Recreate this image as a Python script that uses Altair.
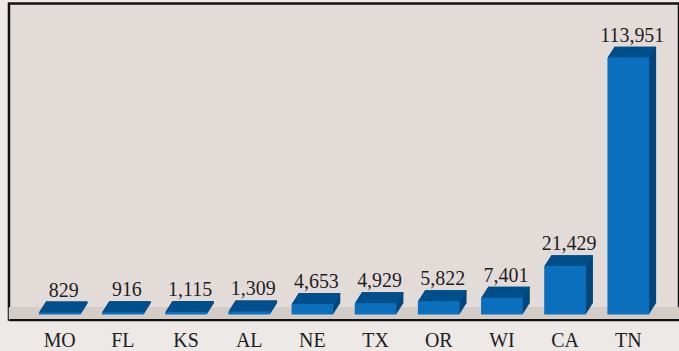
import altair as alt
import pandas as pd

# Case counts by state
states = ["MO", "FL", "KS", "AL", "NE", "TX", "OR", "WI", "CA", "TN"]
counts = [829, 916, 1115, 1309, 4653, 4929, 5822, 7401, 21429, 113951]

df = pd.DataFrame({"state": states, "count": counts})

W, H = 672, 317          # plot area
DEPTH_X, DEPTH_Y = 7, 11  # 3-D extrusion of the columns
STEPS = 11
FLOOR = 12

FRONT = "#0a70be"
TOP = "#004f8a"
SIDE = "#00477c"
FLOOR_COLOR = "#d4ccc7"
PLOT_BG = "#e3dbd8"
PAGE_BG = "#ece9e6"
TEXT = "#1e1e1e"
FONT = "Liberation Serif"

x_enc = alt.X(
    "state:N",
    sort=states,
    scale=alt.Scale(paddingInner=0.34, paddingOuter=0.473),
    axis=alt.Axis(
        title=None,
        ticks=False,
        tickSize=0,
        labelAngle=0,
        labelFont=FONT,
        labelFontSize=20,
        labelColor=TEXT,
        labelBaseline="alphabetic",
        labelPadding=27,
        domainColor="#111111",
        domainWidth=2.2,
        zindex=1,
    ),
)
y_enc = alt.Y(
    "count:Q",
    scale=alt.Scale(domain=[-2300, 137965], nice=False, zero=False),
    axis=None,
)

base = alt.Chart(df).encode(x=x_enc)

# floor strip along the bottom of the plot
floor = alt.Chart(df).mark_rect(color=FLOOR_COLOR).encode(
    x=alt.value(0), x2=alt.value(W), y=alt.value(H - FLOOR), y2=alt.value(H)
)

layers = [floor]

# side faces: the column body swept back in small steps
for i in range(STEPS, 0, -1):
    ox = DEPTH_X * i / STEPS
    oy = -DEPTH_Y * i / STEPS
    layers.append(
        base.mark_bar(color=SIDE, xOffset=ox, yOffset=oy, y2Offset=oy).encode(
            y=y_enc, y2=alt.value(H)
        )
    )

# top faces: the upper edge swept back in the same steps
for i in range(STEPS, 0, -1):
    ox = DEPTH_X * i / STEPS
    oy = -DEPTH_Y * i / STEPS
    layers.append(
        base.mark_bar(color=TOP, xOffset=ox, yOffset=oy, y2Offset=oy + 2).encode(
            y=y_enc, y2="count:Q"
        )
    )

# front faces
layers.append(base.mark_bar(color=FRONT).encode(y=y_enc, y2=alt.value(H)))

# value labels
layers.append(
    base.mark_text(
        font=FONT, fontSize=20, color=TEXT, baseline="alphabetic", dx=4, dy=-16
    ).encode(y=y_enc, text=alt.Text("count:Q", format=","))
)

chart = (
    alt.layer(*layers)
    .properties(
        width=W,
        height=H,
        background=PAGE_BG,
        autosize=alt.AutoSizeParams(type="none"),
        padding={"left": 9, "top": 3, "right": 0, "bottom": 31},
    )
    .configure_view(fill=PLOT_BG, stroke="#111111", strokeWidth=2.5)
)

chart.save("out.html", embed_options={"renderer": "svg", "actions": False})
